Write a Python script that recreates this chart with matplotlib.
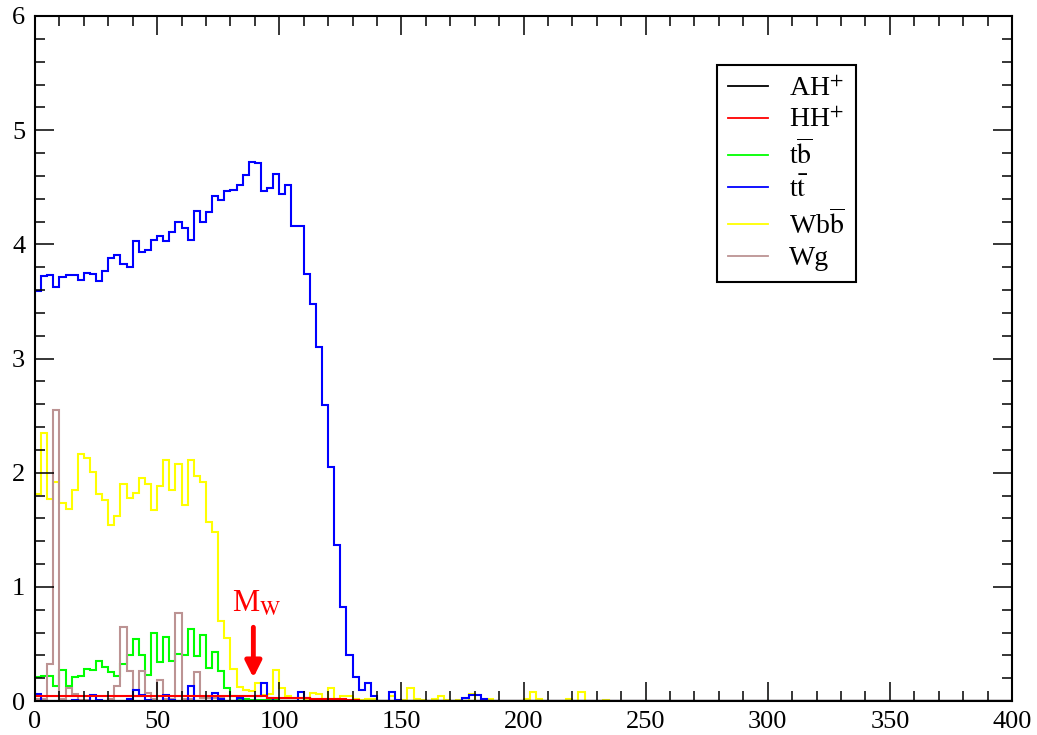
import numpy as np
import matplotlib
matplotlib.use("Agg")
from matplotlib import pyplot as plt
from matplotlib.ticker import MultipleLocator

plt.rcParams["font.family"] = ["Liberation Serif", "DejaVu Serif"]
plt.rcParams["mathtext.fontset"] = "stix"

# binning: 160 bins from 0 to 400
n_bins = 160
x_min, x_max = 0, 400

# bin contents (remaining bins are empty)
ah = [0.0]
hh = [0.04, 0.04, 0.04, 0.04, 0.04, 0.04, 0.04, 0.04, 0.04, 0.04,
      0.04, 0.04, 0.04, 0.04, 0.04, 0.04, 0.045, 0.045, 0.045, 0.045,
      0.045, 0.045, 0.045, 0.045, 0.045, 0.045, 0.045, 0.045, 0.045, 0.045,
      0.045, 0.045, 0.045, 0.045, 0.045, 0.045, 0.045, 0.045, 0.03, 0.03,
      0.03, 0.03, 0.03, 0.03, 0.03, 0.02, 0.02, 0.02, 0.02, 0.02,
      0.015, 0.01, 0.01]
tb = [0.21, 0.22, 0.22, 0.13, 0.27, 0.13, 0.21, 0.22, 0.28, 0.27,
      0.35, 0.30, 0.25, 0.22, 0.32, 0.40, 0.54, 0.40, 0.23, 0.60,
      0.34, 0.56, 0.35, 0.41, 0.40, 0.63, 0.39, 0.58, 0.29, 0.43,
      0.26, 0.11, 0.04, 0.02, 0.02, 0.01, 0.01, 0.01, 0.01, 0.01]
tt = [3.59, 3.72, 3.73, 3.63, 3.71, 3.73, 3.73, 3.69, 3.75, 3.74,
      3.68, 3.77, 3.88, 3.91, 3.83, 3.80, 4.03, 3.93, 3.95, 4.04,
      4.07, 4.03, 4.11, 4.20, 4.14, 4.04, 4.29, 4.20, 4.28, 4.42,
      4.39, 4.47, 4.48, 4.52, 4.61, 4.72, 4.71, 4.47, 4.49, 4.62,
      4.44, 4.52, 4.16, 4.16, 3.74, 3.48, 3.10, 2.59, 2.05, 1.37,
      0.82, 0.40, 0.21, 0.10, 0.16, 0.04, 0.00, 0.00, 0.08, 0.01,
      0.00, 0.00, 0.00, 0.00, 0.00, 0.00, 0.00, 0.00, 0.00, 0.00,
      0.03, 0.05, 0.05, 0.02]
tt_low = [0.06, 0.00, 0.00, 0.00, 0.00, 0.00, 0.01, 0.00, 0.00, 0.05,
          0.01, 0.00, 0.00, 0.00, 0.00, 0.02, 0.10, 0.05, 0.01, 0.00,
          0.00, 0.05, 0.01, 0.00, 0.00, 0.13, 0.00, 0.00, 0.00, 0.07,
          0.02, 0.00, 0.00, 0.03, 0.00, 0.00, 0.04, 0.16, 0.03, 0.00,
          0.00, 0.00, 0.00, 0.08, 0.03]
wbb = [1.81, 2.35, 1.77, 1.92, 1.73, 1.68, 1.85, 2.16, 2.13, 2.01,
       1.81, 1.76, 1.54, 1.62, 1.90, 1.78, 1.82, 1.95, 1.90, 1.67,
       1.88, 2.11, 1.85, 2.08, 1.72, 2.11, 1.97, 1.92, 1.57, 1.48,
       0.70, 0.55, 0.28, 0.12, 0.10, 0.09, 0.16, 0.05, 0.06, 0.27,
       0.11, 0.04, 0.03, 0.03, 0.02, 0.07, 0.06, 0.02, 0.11, 0.02,
       0.04, 0.04, 0.02, 0.01, 0.02, 0.02, 0.00, 0.00, 0.04, 0.01,
       0.01, 0.11, 0.02, 0.01, 0.00, 0.02, 0.04, 0.01, 0.00, 0.01,
       0.00, 0.06, 0.00, 0.00, 0.02, 0.00, 0.00, 0.00, 0.00, 0.00,
       0.02, 0.08, 0.02, 0.00, 0.00, 0.00, 0.00, 0.02, 0.00, 0.08,
       0.00, 0.00, 0.00, 0.01]
wg = [0.02, 0.02, 0.32, 2.55, 0.02, 0.11, 0.06, 0.01, 0.01, 0.00,
      0.00, 0.00, 0.02, 0.13, 0.65, 0.26, 0.04, 0.26, 0.07, 0.02,
      0.18, 0.02, 0.02, 0.77, 0.02, 0.02, 0.25, 0.03, 0.03, 0.03,
      0.03]

labels = ["AH$^{+}$", "HH$^{+}$", r"t$\overline{\rm b}$", r"t$\bar{\rm t}$",
          r"Wb$\overline{\rm b}$", "Wg"]
colors = ["black", "red", "#00ff00", "blue", "#ffff00", "#bc9393"]

m_w_x = 89.4


def pad(v):
    v = np.asarray(v, dtype=float)
    return np.pad(v, (0, n_bins - len(v)))


fig = plt.figure(figsize=(10.37, 7.35), dpi=100)
ax = fig.add_axes([35 / 1037, 34 / 735, 977 / 1037, 685 / 735])

edges = np.linspace(x_min, x_max, n_bins + 1)
lw = 1.5
ax.stairs(pad(wbb), edges, baseline=None, color=colors[4], lw=lw)
ax.stairs(pad(tb), edges, baseline=None, color=colors[2], lw=lw)
ax.stairs(pad(wg), edges, baseline=None, color=colors[5], lw=lw)
ax.stairs(pad(tt_low), edges, baseline=None, color=colors[3], lw=lw)
ax.stairs(pad(tt), edges, baseline=None, color=colors[3], lw=lw)
ax.stairs(pad(hh), edges, baseline=None, color=colors[1], lw=lw)
ax.stairs(pad(ah), edges, baseline=None, color=colors[0], lw=lw)

# legend
handles = [plt.Line2D([], [], color=c, lw=1.3) for c in colors]
leg = ax.legend(handles, labels, loc="upper left", bbox_to_anchor=(0.698, 0.928),
                borderaxespad=0, fontsize=20, frameon=True, fancybox=False,
                edgecolor="black", framealpha=1, borderpad=0.4, labelspacing=0.22,
                handlelength=1.45, handletextpad=0.75)
leg.get_frame().set_linewidth(1.5)

# M_W marker
ax.annotate("", xy=(m_w_x, 0.18), xytext=(m_w_x, 0.67),
            arrowprops=dict(arrowstyle="-|>", color="red", lw=3.5, mutation_scale=24))
ax.text(80.5, 0.78, r"M$_{\rm W}$", color="red", fontsize=22)

ax.set_xlim(x_min, x_max)
ax.set_ylim(0, 6)
ax.xaxis.set_major_locator(MultipleLocator(50))
ax.xaxis.set_minor_locator(MultipleLocator(10))
ax.yaxis.set_major_locator(MultipleLocator(1))
ax.yaxis.set_minor_locator(MultipleLocator(0.2))
ax.tick_params(which="both", direction="in", top=True, right=True, width=1.1,
               labelsize=19, pad=7)
ax.tick_params(which="major", length=14)
ax.tick_params(which="minor", length=7)
for s in ax.spines.values():
    s.set_linewidth(1.5)

fig.savefig("out.png", dpi=100)
